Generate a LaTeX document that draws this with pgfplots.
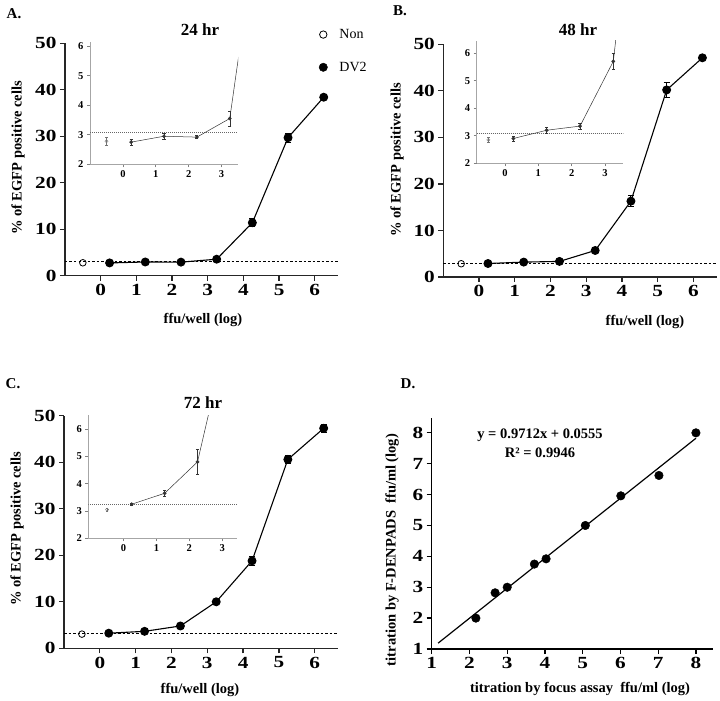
\documentclass[border=0pt]{standalone}
\usepackage{fontspec}
\setmainfont{Liberation Serif}
\usepackage{graphicx}
\usepackage{pgfplots}
\usepackage{pgfplotstable}
\pgfplotsset{compat=1.18}
\newcommand\fs[1]{\fontsize{#1}{#1}\selectfont}

\pgfplotstableread{
x y e
0.25 2.75 0.1
1.25 2.95 0.1
2.25 2.92 0.05
3.25 3.55 0.25
4.25 11.4 0.9
5.25 29.7 1.0
6.25 38.4 0.3
}\dataA
\pgfplotstableread{
x y e
0.25 2.9 0.1
1.25 3.2 0.1
2.25 3.35 0.1
3.25 5.7 0.3
4.25 16.3 1.15
5.25 40.2 1.7
6.25 47.1 0.3
}\dataB
\pgfplotstableread{
x y e
0.25 3.25 0.05
1.25 3.65 0.12
2.25 4.8 0.45
3.25 10.0 0.3
4.25 18.8 1.0
5.25 40.6 0.9
6.25 47.3 0.9
}\dataC

\pgfplotsset{
 mainax/.style={scale only axis, axis x line*=bottom, axis y line*=left,
   axis line style={-, line width=1.3pt, black!85},
   every tick/.append style={line width=1.3pt, black!85},
   tick align=outside, major tick length=5pt,
   xmin=-1, xmax=6.65, ymin=0, ymax=50, xtick={0,...,6}, ytick={0,10,...,50},
   tick label style={font=\bfseries\fs{17}},
   /pgf/number format/assume math mode=true,
   xticklabel={\scalebox{1.25}[1]{\pgfmathprintnumber{\tick}}},
   yticklabel={\scalebox{1.25}[1]{\pgfmathprintnumber{\tick}}},
   clip=false},
 inset/.style={scale only axis, axis x line*=bottom, axis y line*=left,
   axis line style={-, line width=0.7pt, black!35},
   every tick/.append style={line width=0.6pt, black!50},
   tick align=outside, major tick length=3pt,
   ymin=2, xtick={0,...,3}, ytick={2,...,6},
   tick label style={font=\bfseries\fs{10.5}},
   /pgf/number format/assume math mode=true, clip=true},
 maincurve/.style={black, line width=1.1pt, mark=*, mark size=3.9pt,
   error bars/.cd, y dir=both, y explicit,
   error bar style={line width=0.9pt},
   error mark options={rotate=90, mark size=3pt, line width=0.9pt}, /pgfplots/.cd},
 nonmain/.style={black, line width=0.8pt, mark=o, mark size=3.3pt, only marks,
   mark options={fill=white}},
 insetcurve/.style={black!80, line width=0.5pt, mark=*, mark size=1.6pt,
   error bars/.cd, y dir=both, y explicit,
   error bar style={line width=0.5pt},
   error mark options={rotate=90, mark size=1.6pt, line width=0.5pt}, /pgfplots/.cd},
 insetnon/.style={black!55, line width=0.4pt, mark=o, mark size=1.6pt, only marks,
   error bars/.cd, y dir=both, y explicit,
   error bar style={line width=0.4pt},
   error mark options={rotate=90, mark size=1.3pt, line width=0.4pt}, /pgfplots/.cd},
 basel/.style={black, line width=0.8pt, dash pattern=on 2.5pt off 2pt},
 insetbasel/.style={black!60, line width=0.5pt, dash pattern=on 1pt off 1pt},
}

\begin{document}
\begin{tikzpicture}
\useasboundingbox (0,0) rectangle (720pt,-701pt);

% ---------- Panel A ----------
\begin{axis}[mainax, width=273pt, height=232.4pt, at={(65pt,-275.7pt)}, anchor=south west,
  legend style={draw=none, fill=none, font=\fs{14}, at={(axis description cs:0.93,1.07)},
    anchor=north west, inner sep=0pt, row sep=18pt, column sep=10pt, cells={anchor=west}}]
\addlegendimage{only marks, mark=o, mark size=3.7pt, line width=0.8pt, black}
\addlegendentry{Non}
\addlegendimage{only marks, mark=*, mark size=4.2pt, black}
\addlegendentry{DV2}
\addplot[forget plot, basel] coordinates {(-1,3.07) (6.65,3.07)};
\addplot[forget plot, maincurve] table[x=x, y=y, y error=e] {\dataA};
\addplot[forget plot, nonmain] coordinates {(-0.5,2.78)};
\end{axis}
\begin{axis}[inset, width=148pt, height=122.6pt, at={(90pt,-164.3pt)}, anchor=south west,
  xmin=-1, xmax=3.5, ymax=6.15]
\addplot[insetbasel] coordinates {(-1,3.07) (3.5,3.07)};
\addplot[insetcurve] table[x=x, y=y, y error=e] {\dataA};
\addplot[insetnon] coordinates {(-0.5,2.78) +- (0,0.15)};
\end{axis}

% ---------- Panel B ----------
\begin{axis}[mainax, width=273.4pt, height=232.7pt, at={(443.3pt,-277pt)}, anchor=south west]
\addplot[basel] coordinates {(-1,3.0) (6.65,3.0)};
\addplot[maincurve] table[x=x, y=y, y error=e] {\dataB};
\addplot[nonmain] coordinates {(-0.5,2.85)};
\end{axis}
\begin{axis}[inset, width=146.6pt, height=122.6pt, at={(476.7pt,-163.3pt)}, anchor=south west,
  xmin=-0.85, xmax=3.55, ymax=6.45]
\addplot[insetbasel] coordinates {(-0.85,3.1) (3.55,3.1)};
\addplot[insetcurve] table[x=x, y=y, y error=e] {\dataB};
\addplot[insetnon] coordinates {(-0.5,2.85) +- (0,0.08)};
\end{axis}

% ---------- Panel C ----------
\begin{axis}[mainax, width=274pt, height=232.6pt, at={(64pt,-648.3pt)}, anchor=south west]
\addplot[basel] coordinates {(-1,3.2) (6.65,3.2)};
\addplot[maincurve] table[x=x, y=y, y error=e] {\dataC};
\addplot[nonmain] coordinates {(-0.5,3.05)};
\end{axis}
\begin{axis}[inset, width=149pt, height=123.3pt, at={(88.3pt,-538.3pt)}, anchor=south west,
  xmin=-1.07, xmax=3.46, ymax=6.52]
\addplot[insetbasel] coordinates {(-1.07,3.25) (3.46,3.25)};
\addplot[insetcurve] table[x=x, y=y, y error=e] {\dataC};
\addplot[insetnon] coordinates {(-0.5,3.05) +- (0,0.04)};
\end{axis}

% ---------- Panel D ----------
\begin{axis}[scale only axis, width=281.6pt, height=231.3pt, at={(431.7pt,-649pt)}, anchor=south west,
  axis x line*=bottom, axis y line*=left,
  axis line style={-, line width=1.3pt, black},
  every tick/.append style={line width=1.3pt, black},
  tick align=outside, major tick length=5pt,
  xmin=1, xmax=8.46, ymin=1, ymax=8.49, xtick={1,...,8}, ytick={1,...,8},
  tick label style={font=\bfseries\fs{17}},
  /pgf/number format/assume math mode=true,
  xticklabel={\scalebox{1.25}[1]{\pgfmathprintnumber{\tick}}},
  yticklabel={\scalebox{1.25}[1]{\pgfmathprintnumber{\tick}}}]
\addplot[black, line width=1.2pt] coordinates {(1.17,1.19) (8.0,7.825)};
\addplot[only marks, mark=*, mark size=4.3pt, black] coordinates {
 (2.17,2.0) (2.68,2.82) (3.0,3.0) (3.72,3.75) (4.03,3.92)
 (5.07,5.0) (6.01,5.96) (7.02,6.62) (8.0,8.0)};
\end{axis}

% ---------- Texts ----------
\begin{scope}[every node/.style={font=\bfseries\fs{15}}]
\node at (14pt,-14pt) {A.};
\node at (400pt,-11pt) {B.};
\node at (13pt,-384pt) {C.};
\node at (408pt,-384pt) {D.};
\end{scope}
\begin{scope}[every node/.style={font=\bfseries\fs{17}}]
\node at (200pt,-30pt) {24 hr};
\node at (578pt,-30pt) {48 hr};
\node at (203pt,-403pt) {72 hr};
\end{scope}
\begin{scope}[every node/.style={font=\bfseries\fs{14.5}}]
\node at (203pt,-320pt) {ffu/well (log)};
\node at (645pt,-322pt) {ffu/well (log)};
\node at (200pt,-690pt) {ffu/well (log)};
\node[rotate=90] at (18pt,-158pt) {\% of EGFP positive cells};
\node[rotate=90] at (397pt,-160pt) {\% of EGFP positive cells};
\node[rotate=90] at (17pt,-529pt) {\% of EGFP positive cells};
\node at (580pt,-689pt) {titration by focus assay\ \ ffu/ml (log)};
\node[rotate=90] at (392pt,-550pt) {titration by F-DENPADS\ \ ffu/ml (log)};
\node at (540pt,-435pt) {y = 0.9712x + 0.0555};
\node at (540pt,-453pt) {R² = 0.9946};
\end{scope}
\end{tikzpicture}
\end{document}
